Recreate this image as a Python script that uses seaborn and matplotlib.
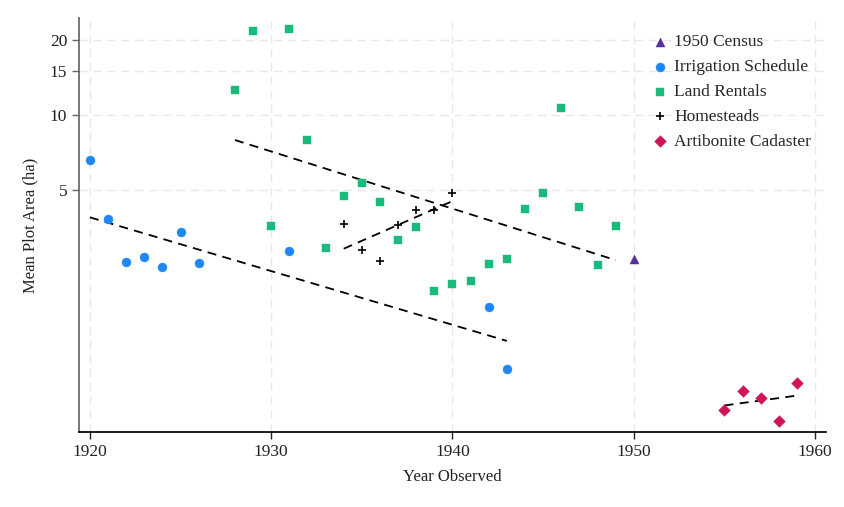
import matplotlib
matplotlib.use("Agg")
import matplotlib.pyplot as plt
from matplotlib.ticker import FixedLocator, NullLocator, FixedFormatter
import seaborn as sns
import numpy as np
import pandas as pd

# values (hectares, log axis)
census_years = [1950]
census_area = [2.63]

irrigation_years = [1920, 1921, 1922, 1923, 1924, 1925, 1926, 1931, 1942, 1943]
irrigation_area = [6.54, 3.82, 2.57, 2.67, 2.44, 3.39, 2.53, 2.82, 1.69, 0.955]

rental_years = [1928, 1929, 1930, 1931, 1932, 1933, 1934, 1935, 1936, 1937, 1938,
                1939, 1940, 1941, 1942, 1943, 1944, 1945, 1946, 1947, 1948, 1949]
rental_area = [12.5, 21.6, 3.57, 22.1, 7.87, 2.90, 4.69, 5.33, 4.44, 3.13, 3.54,
               1.96, 2.08, 2.14, 2.51, 2.62, 4.19, 4.83, 10.6, 4.27, 2.50, 3.56]

homestead_years = [1934, 1935, 1936, 1937, 1938, 1939, 1940]
homestead_area = [3.62, 2.86, 2.59, 3.61, 4.12, 4.12, 4.82]

cadaster_years = [1955, 1956, 1957, 1958, 1959]
cadaster_area = [0.649, 0.78, 0.730, 0.589, 0.837]

y_ticks = [5, 10, 15, 20]
x_ticks = [1920, 1930, 1940, 1950, 1960]

sns.set_theme(style="white")
plt.rcParams['font.family'] = ['Liberation Serif', 'DejaVu Serif']

fig = plt.figure(figsize=(8.45, 5.07), dpi=100)
ax = fig.add_axes([0.0935, 0.148, 0.884, 0.8165])

series = [
    ("1950 Census", census_years, census_area, "^", "#5B2E9E", 42),
    ("Irrigation Schedule", irrigation_years, irrigation_area, "o", "#1F87F2", 42),
    ("Land Rentals", rental_years, rental_area, "s", "#1AB97C", 38),
    ("Homesteads", homestead_years, homestead_area, "+", "black", 30),
    ("Artibonite Cadaster", cadaster_years, cadaster_area, "D", "#D01458", 36),
]

for name, yrs, area, mk, col, sz in series:
    df = pd.DataFrame({"year": yrs, "area": area})
    sns.scatterplot(data=df, x="year", y="area", marker=mk, color=col, s=sz,
                    linewidth=1.2 if mk == "+" else 0.3, edgecolor=col,
                    label=name, ax=ax, zorder=3)
    # log-linear trend over each series' span
    if len(yrs) > 1:
        b, a = np.polyfit(yrs, np.log10(area), 1)
        fit = pd.DataFrame({"year": [min(yrs), max(yrs)]})
        fit["area"] = 10 ** (a + b * fit["year"])
        sns.lineplot(data=fit, x="year", y="area", color="black", linestyle=(0, (5, 3.5)),
                     linewidth=1.3, ax=ax, zorder=2, legend=False)

ax.set_yscale("log")
ax.set_xlim(1919.4, 1960.6)
ax.set_ylim(0.532, 24.4)
ax.yaxis.set_major_locator(FixedLocator(y_ticks))
ax.yaxis.set_major_formatter(FixedFormatter([str(t) for t in y_ticks]))
ax.yaxis.set_minor_locator(NullLocator())
ax.set_xticks(x_ticks)
ax.set_xticklabels([str(t) for t in x_ticks])

ax.grid(True, color="#e8e8e8", linestyle=(0, (6, 4)), linewidth=1.0)
ax.set_axisbelow(True)
for s in ["top", "right"]:
    ax.spines[s].set_visible(False)
ax.spines["left"].set_color("#666666")
ax.spines["bottom"].set_color("black")
ax.tick_params(axis="both", which="major", direction="out", length=5, width=1,
               labelsize=12.5, colors="#222222", left=True, bottom=True)
ax.tick_params(axis="y", color="#666666")

ax.set_xlabel("Year Observed", fontsize=12, color="#222222", labelpad=7)
ax.set_ylabel("Mean Plot Area (ha)", fontsize=12, color="#222222", labelpad=8)

leg = ax.legend(loc="upper left", bbox_to_anchor=(0.75, 0.99), frameon=False,
                fontsize=12.5, handletextpad=0.3, labelspacing=0.5,
                handlelength=1.0, borderaxespad=0.3)

fig.savefig("out.png", dpi=100)
